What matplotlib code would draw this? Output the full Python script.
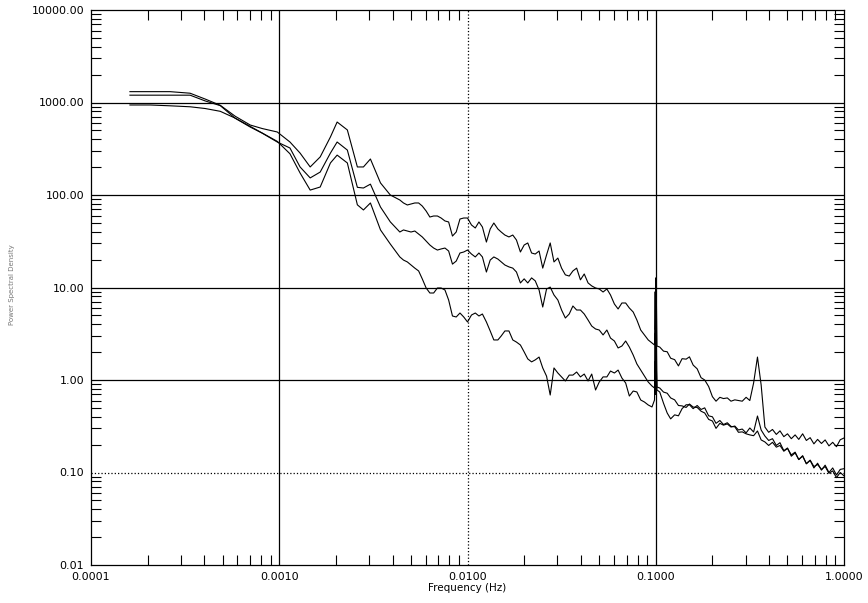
import matplotlib
matplotlib.use("Agg")
import matplotlib.pyplot as plt
from matplotlib.ticker import LogLocator, NullFormatter

# Frequency grid (Hz) shared by the three spectra
freq = [
    0.000161, 0.000206, 0.000263, 0.000336, 0.000404, 0.000486, 0.000583, 0.000701,
    0.000812, 0.000976, 0.00114, 0.00129, 0.00146, 0.00165, 0.00187, 0.00203,
    0.00230, 0.00260, 0.00280, 0.00305, 0.00345, 0.00389,
    0.00437, 0.00457, 0.00479, 0.00501, 0.00525, 0.00550, 0.00575, 0.00603,
    0.00631, 0.00661, 0.00692, 0.00724, 0.00759, 0.00794, 0.00832, 0.00871,
    0.00912, 0.00955, 0.0100, 0.0105, 0.0110, 0.0115, 0.0120, 0.0126,
    0.0132, 0.0138, 0.0145, 0.0151, 0.0158, 0.0166, 0.0174, 0.0182,
    0.0191, 0.0200, 0.0209, 0.0219, 0.0229, 0.0240, 0.0251, 0.0263,
    0.0275, 0.0288, 0.0302, 0.0316, 0.0331, 0.0347, 0.0363, 0.0380,
    0.0398, 0.0417, 0.0437, 0.0457, 0.0479, 0.0501, 0.0525, 0.0550,
    0.0575, 0.0603, 0.0631, 0.0661, 0.0692, 0.0724, 0.0759, 0.0794,
    0.0832, 0.0871, 0.0912, 0.0955,
    0.0985, 0.0993, 0.0997, 0.1000, 0.1004, 0.1008, 0.1015,
    0.105, 0.110, 0.115, 0.120, 0.126, 0.132, 0.138, 0.145, 0.151, 0.158,
    0.166, 0.174, 0.182, 0.191, 0.200, 0.209, 0.219, 0.229, 0.240, 0.251,
    0.263, 0.275, 0.288, 0.302, 0.316, 0.331, 0.347, 0.363, 0.380, 0.398,
    0.417, 0.437, 0.457, 0.479, 0.501, 0.525, 0.550, 0.575, 0.603, 0.631,
    0.661, 0.692, 0.724, 0.759, 0.794, 0.832, 0.871, 0.912, 0.955, 1.000,
]

psd_a = [
    1310, 1310, 1310, 1260, 1090, 933, 711, 571, 523, 480, 374, 284, 201, 258,
    424, 615, 505, 201, 201, 245, 135, 100,
    88.3, 82.0, 78.0, 80.0, 82.0, 82.0, 76.0, 67.1, 57.8, 59.3, 59.3, 56.4,
    52.4, 51.1, 36.0, 39.8, 55.0, 56.4, 56.4, 47.4, 44.0, 51.1, 45.1, 31.0,
    42.9, 49.8, 42.9, 39.8, 36.9, 35.2, 36.9, 32.6, 24.2, 28.8, 30.3, 23.6,
    23.0, 24.8, 16.2, 22.5, 30.3, 18.9, 20.8, 16.2, 13.7, 13.3, 15.1, 16.2,
    12.1, 14.0, 11.2, 10.4, 9.88, 9.64, 8.94, 9.64, 8.30, 6.63, 5.86, 6.80,
    6.80, 6.00, 5.43, 4.45, 3.47, 3.07, 2.71, 2.51,
    2.39, 9.0, 3.5, 12.7, 4.0, 7.0, 2.33,
    2.27, 2.05, 2.02, 1.72, 1.66, 1.42, 1.70, 1.68, 1.78, 1.45,
    1.32, 1.06, 1.00, 0.850, 0.660, 0.590, 0.650, 0.630, 0.640, 0.590,
    0.610, 0.600, 0.590, 0.650, 0.600, 0.929, 1.77, 0.883,
    0.310, 0.272, 0.292, 0.258, 0.282, 0.244, 0.262, 0.232, 0.255, 0.228,
    0.262, 0.222, 0.238, 0.204, 0.228, 0.206, 0.225, 0.194, 0.212, 0.190,
    0.226, 0.236,
]

psd_b = [
    1200, 1200, 1200, 1200, 1040, 925, 676, 543, 466, 374, 322, 201, 153, 177,
    284, 374, 306, 121, 119, 131, 74.1, 51.2,
    39.8, 41.9, 40.8, 39.8, 40.8, 37.9, 35.2, 31.8, 28.8, 26.7, 25.4, 26.1,
    26.7, 24.8, 17.9, 19.3, 23.6, 24.2, 25.4, 23.0, 21.4, 23.6, 21.4, 14.7,
    19.8, 21.4, 20.3, 18.9, 17.5, 16.7, 16.2, 14.7, 11.2, 12.4, 11.2, 12.7,
    11.8, 9.40, 6.15, 9.64, 10.1, 8.30, 7.32, 5.71, 4.68, 5.17, 6.31, 5.71,
    5.71, 5.17, 4.45, 3.83, 3.56, 3.47, 3.07, 3.47, 2.84, 2.64, 2.22, 2.33,
    2.64, 2.27, 1.86, 1.49, 1.28, 1.10, 0.951, 0.861,
    0.819, 3.2, 1.2, 4.68, 1.4, 2.6, 0.840,
    0.819, 0.740, 0.720, 0.640, 0.610, 0.530, 0.525, 0.505, 0.550, 0.510,
    0.505, 0.460, 0.440, 0.375, 0.360, 0.300, 0.340, 0.325, 0.335, 0.310,
    0.318, 0.288, 0.295, 0.268, 0.303, 0.274, 0.408, 0.288,
    0.248, 0.222, 0.232, 0.196, 0.210, 0.172, 0.184, 0.150, 0.163, 0.138,
    0.152, 0.124, 0.135, 0.112, 0.126, 0.106, 0.120, 0.100, 0.112, 0.094,
    0.108, 0.110,
]

psd_c = [
    940, 940, 921, 899, 861, 803, 678, 552, 467, 380, 279, 173, 113, 122,
    222, 270, 222, 78.3, 68.9, 82.0, 41.9, 29.5,
    21.4, 19.8, 18.9, 17.5, 16.2, 15.1, 12.4, 9.88, 8.72, 8.72, 9.88, 9.88,
    9.40, 7.32, 4.92, 4.80, 5.30, 4.80, 4.24, 5.04, 5.30, 4.92, 5.17, 4.24,
    3.39, 2.71, 2.71, 2.99, 3.39, 3.39, 2.71, 2.57, 2.39, 2.01, 1.69, 1.57,
    1.65, 1.77, 1.35, 1.10, 0.688, 1.35, 1.19, 1.08, 0.976, 1.13, 1.13, 1.22,
    1.08, 1.16, 0.976, 1.16, 0.780, 0.951, 1.08, 1.08, 1.25, 1.19, 1.28, 1.05,
    0.929, 0.671, 0.760, 0.742, 0.608, 0.578, 0.537, 0.511,
    0.608, 1.6, 0.7, 2.11, 0.8, 1.3, 0.780,
    0.742, 0.560, 0.440, 0.380, 0.420, 0.410, 0.490, 0.540, 0.540, 0.490,
    0.530, 0.480, 0.500, 0.410, 0.400, 0.340, 0.365, 0.330, 0.345, 0.315,
    0.312, 0.272, 0.275, 0.262, 0.255, 0.250, 0.281, 0.225,
    0.214, 0.196, 0.212, 0.188, 0.196, 0.170, 0.182, 0.155, 0.166, 0.138,
    0.150, 0.125, 0.136, 0.116, 0.122, 0.108, 0.116, 0.098, 0.104, 0.088,
    0.100, 0.092,
]

x_ticks = [0.0001, 0.001, 0.01, 0.1, 1.0]
x_tick_labels = ["0.0001", "0.0010", "0.0100", "0.1000", "1.0000"]
y_ticks = [0.01, 0.1, 1, 10, 100, 1000, 10000]
y_tick_labels = ["0.01", "0.10", "1.00", "10.00", "100.00", "1000.00", "10000.00"]

# grid lines: (value, linestyle)
x_grid = [(0.001, "-"), (0.01, ":"), (0.1, "-")]
y_grid = [(0.1, ":"), (1, "-"), (10, "-"), (100, "-"), (1000, "-")]

fig = plt.figure(figsize=(8.68, 6.03), dpi=100)
ax = fig.add_axes([91 / 868, 1 - 565 / 603, (844 - 91) / 868, (565 - 10) / 603])

for x, ls in x_grid:
    ax.axvline(x, color="black", linestyle=ls, linewidth=0.9, zorder=1)
for y, ls in y_grid:
    ax.axhline(y, color="black", linestyle=ls, linewidth=0.9, zorder=1)

for psd in (psd_a, psd_b, psd_c):
    ax.plot(freq, psd, color="black", linewidth=0.8, zorder=2)

ax.set_xscale("log")
ax.set_yscale("log")
ax.set_xlim(1e-4, 1.0)
ax.set_ylim(0.01, 10000)

ax.set_xticks(x_ticks, labels=x_tick_labels)
ax.set_yticks(y_ticks, labels=y_tick_labels)
ax.xaxis.set_minor_locator(LogLocator(base=10, subs=range(2, 10), numticks=20))
ax.yaxis.set_minor_locator(LogLocator(base=10, subs=range(2, 10), numticks=20))
ax.xaxis.set_minor_formatter(NullFormatter())
ax.yaxis.set_minor_formatter(NullFormatter())

ax.tick_params(which="both", direction="in", top=True, right=True,
               width=0.8, labelsize=8, colors="black")
ax.tick_params(which="major", length=0, pad=5)
ax.tick_params(which="minor", length=7.5)

for s in ax.spines.values():
    s.set_linewidth(0.9)

ax.set_xlabel("Frequency (Hz)", fontsize=7.5, labelpad=1)
# faint y label, sits near the left edge like the original
fig.text(12 / 868, 1 - 285 / 603, "Power Spectral Density", rotation=90,
         fontsize=5, color="#777777", ha="center", va="center")

fig.savefig("out.png", dpi=100)
